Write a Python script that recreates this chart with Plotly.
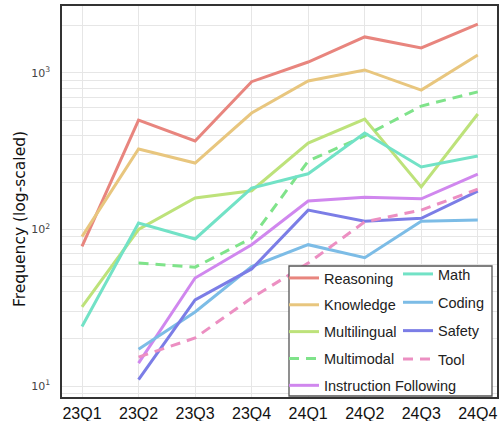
import plotly.graph_objects as go

quarters = ["23Q1", "23Q2", "23Q3", "23Q4", "24Q1", "24Q2", "24Q3", "24Q4"]

reasoning = [78, 500, 368, 880, 1175, 1700, 1445, 2055]
knowledge = [90, 327, 266, 555, 889, 1046, 778, 1304]
multilingual = [32, 100, 159, 177, 357, 508, 187, 547]
multimodal = [None, 61, 57.5, 88, 274, 396, 615, 758]
instruction_following = [None, 14, 49, 80, 152, 161, 157, 226]
math_vals = [24, 110, 87, 184, 227, 414, 251, 295]
coding = [None, 17.2, 29.7, 58, 80, 66, 113, 115]
safety = [None, 11, 35.5, 56, 133, 113, 118, 176]
tool = [None, 15.3, 20.3, 36.5, 61, 112, 133, 181]

series = [
    ("Reasoning", reasoning, "#e8857e", "solid", "legend"),
    ("Knowledge", knowledge, "#e8c67e", "solid", "legend"),
    ("Multilingual", multilingual, "#bde27a", "solid", "legend"),
    ("Multimodal", multimodal, "#7fe38a", "10px,7px", "legend"),
    ("Instruction Following", instruction_following, "#d087ee", "solid", "legend"),
    ("Math", math_vals, "#72e2c6", "solid", "legend2"),
    ("Coding", coding, "#7cbce6", "solid", "legend2"),
    ("Safety", safety, "#7b7de6", "solid", "legend2"),
    ("Tool", tool, "#ec8fc2", "10px,7px", "legend2"),
]

fig = go.Figure()
for name, vals, color, dash, leg in series:
    fig.add_trace(go.Scatter(
        x=quarters, y=vals, name=name, mode="lines",
        line=dict(color=color, width=3, dash=dash),
        legend=leg, legendgroup=name, connectgaps=False,
    ))

minor_vals = [m * 10 ** k for k in range(0, 4) for m in range(2, 10)]

fig.update_layout(
    width=502, height=421,
    margin=dict(l=62, r=5, t=6, b=24, autoexpand=False),
    paper_bgcolor="white", plot_bgcolor="white",
    showlegend=True,
    xaxis=dict(
        type="category", range=[-0.354, 7.34],
        showgrid=True, gridcolor="#e6e6e6", gridwidth=1,
        showline=True, linecolor="#333", linewidth=1.5, mirror=True,
        ticks="", ticklabelstandoff=1,
        tickfont=dict(family="Liberation Sans", size=16, color="#111"),
        automargin=False, zeroline=False,
    ),
    yaxis=dict(
        type="log", range=[0.93, 3.428],
        tickvals=[10, 100, 1000],
        ticktext=["10<sup>1</sup>", "10<sup>2</sup>", "10<sup>3</sup>"],
        showgrid=True, gridcolor="#e6e6e6", gridwidth=1,
        minor=dict(tickvals=minor_vals, showgrid=True, gridcolor="#e6e6e6", gridwidth=1, ticks=""),
        showline=True, linecolor="#333", linewidth=1.5, mirror=True,
        ticks="", ticklabelstandoff=8,
        tickfont=dict(family="DejaVu Sans", size=11, color="#444"),
        automargin=False, zeroline=False,
    ),
    legend=dict(
        x=(284 - 62) / 435, y=(397 - 262) / 391, xanchor="left", yanchor="top",
        orientation="v", bgcolor="rgba(0,0,0,0)", borderwidth=0,
        font=dict(family="Liberation Sans", size=14.5, color="#222"),
        itemwidth=30, tracegroupgap=5, traceorder="grouped",
    ),
    legend2=dict(
        x=(398 - 62) / 435, y=(397 - 258) / 391, xanchor="left", yanchor="top",
        orientation="v", bgcolor="rgba(0,0,0,0)", borderwidth=0,
        font=dict(family="Liberation Sans", size=14.5, color="#222"),
        itemwidth=30, tracegroupgap=6.5, traceorder="grouped",
    ),
    shapes=[dict(
        type="rect", xref="paper", yref="paper",
        x0=(289 - 62) / 435, x1=(492 - 62) / 435,
        y0=(397 - 396) / 391, y1=(397 - 266) / 391,
        fillcolor="white", line=dict(color="#555", width=1.3), layer="above",
    )],
    annotations=[dict(
        text="Frequency (log-scaled)", xref="paper", yref="paper",
        x=(20 - 62) / 435, y=(397 - 219) / 391, textangle=-90,
        showarrow=False, xanchor="center", yanchor="middle",
        font=dict(family="DejaVu Sans", size=15.5, color="#111"),
    )],
)

fig.write_html("out.html", config={"displayModeBar": False},
               post_script="document.body.style.margin='0';")
